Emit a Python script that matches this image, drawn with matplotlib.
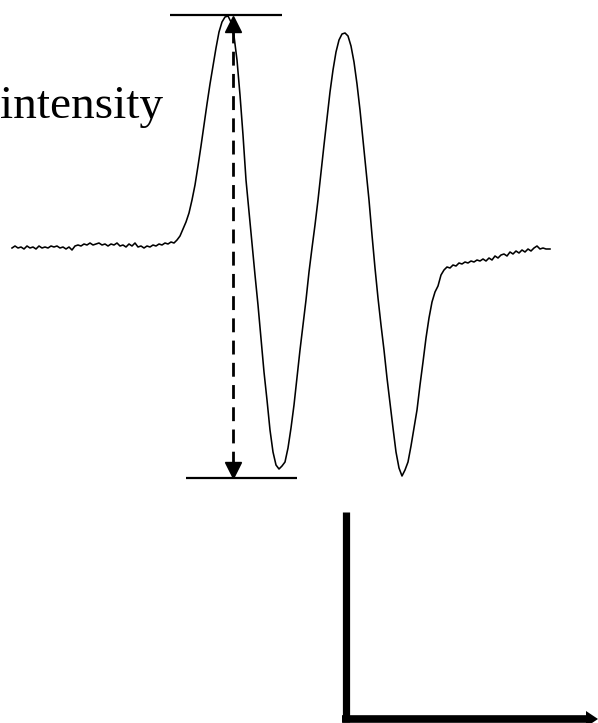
import matplotlib
matplotlib.use("Agg")
import matplotlib.pyplot as plt
from matplotlib.patches import Polygon

# Spectrum trace (field position, signal) (pixel-like units, y downward)
field = [12, 15, 18, 21, 24, 27, 30, 33, 36, 39, 42, 45, 48, 51, 54, 57, 60, 63, 66, 69,
         72, 75, 78, 81, 84, 87, 90, 93, 96, 99, 102, 105, 108, 111, 114, 117, 120, 123, 126, 129,
         132, 135, 138, 141, 144, 147, 150, 153, 156, 159, 162, 165, 168, 171, 174, 177, 180, 183, 186, 189,
         192, 195, 198, 201, 204, 207, 210, 213, 216, 219, 222, 225, 228, 231, 234, 237, 240, 243, 246, 249,
         252, 255, 258, 261, 264, 267, 270, 273, 276, 279, 282, 285, 288, 291, 294, 297, 300, 303, 306, 309,
         312, 315, 318, 321, 324, 327, 330, 333, 336, 339, 342, 345, 348, 351, 354, 357, 360, 363, 366, 369,
         372, 375, 378, 381, 384, 387, 390, 393, 396, 399, 402, 405, 408, 411, 414, 417, 420, 423, 426, 429,
         432, 435, 438, 441, 444, 447, 450, 453, 456, 459, 462, 465, 468, 471, 474, 477, 480, 483, 486, 489,
         492, 495, 498, 501, 504, 507, 510, 513, 516, 519, 522, 525, 528, 531, 534, 537, 540, 543, 546, 550]
signal = [248, 246, 248, 247, 249, 246, 248, 247, 249, 246, 248, 247, 248, 246, 247, 246, 248, 247, 249, 247,
          250, 246, 245, 246, 244, 245, 243, 245, 244, 243, 245, 244, 246, 244, 245, 243, 246, 245, 247, 244,
          246, 243, 247, 246, 248, 246, 247, 245, 246, 244, 245, 243, 244, 242, 243, 240, 236, 229, 222, 213,
          200, 185, 166, 146, 125, 104, 84, 66, 48, 32, 22, 17, 16, 22, 36, 60, 95, 135, 180, 212,
          245, 275, 305, 338, 372, 400, 430, 452, 465, 469, 466, 462, 448, 428, 405, 377, 350, 325, 300, 272,
          248, 225, 200, 172, 145, 118, 92, 70, 52, 40, 34, 33, 36, 46, 62, 84, 110, 140, 170, 200,
          235, 268, 298, 325, 350, 378, 403, 428, 452, 468, 476, 470, 462, 446, 428, 410, 385, 362, 338, 318,
          302, 292, 286, 275, 270, 267, 268, 265, 266, 263, 264, 262, 263, 261, 262, 260, 261, 259, 261, 258,
          260, 256, 258, 255, 254, 256, 252, 254, 251, 253, 250, 252, 249, 251, 248, 246, 249, 248, 249, 249]

label_text = "intensity"

fig = plt.figure(figsize=(5.98, 7.23), dpi=100)
ax = fig.add_axes([0, 0, 1, 1])
ax.set_xlim(0, 598)
ax.set_ylim(723, 0)
ax.axis("off")

ax.plot(field, signal, color="black", lw=1.15)

# horizontal reference lines at max and min
ax.plot([170, 282], [15, 15], color="black", lw=1.6, solid_capstyle="butt")
ax.plot([186, 297], [478, 478], color="black", lw=1.6, solid_capstyle="butt")

# dashed double arrow
ax.plot([233, 233], [29, 464], color="black", lw=2.0, dashes=(5.0, 3.0))
ax.plot([233], [24], marker="^", color="black", markersize=12, lw=0)
ax.plot([233], [470], marker="v", color="black", markersize=12, lw=0)

ax.text(0, 118, label_text, fontfamily="Liberation Serif", fontsize=34,
        ha="left", va="baseline", color="black")

# L-shaped axes symbol
ax.plot([345.5, 345.5], [512, 722], color="black", lw=5.2, solid_capstyle="butt")
ax.plot([342, 588], [719, 719], color="black", lw=5.5, solid_capstyle="butt")
ax.add_patch(Polygon([[586, 711], [598, 719], [586, 727]], closed=True,
                     facecolor="black", edgecolor="none"))

fig.savefig("out.png", dpi=100)
